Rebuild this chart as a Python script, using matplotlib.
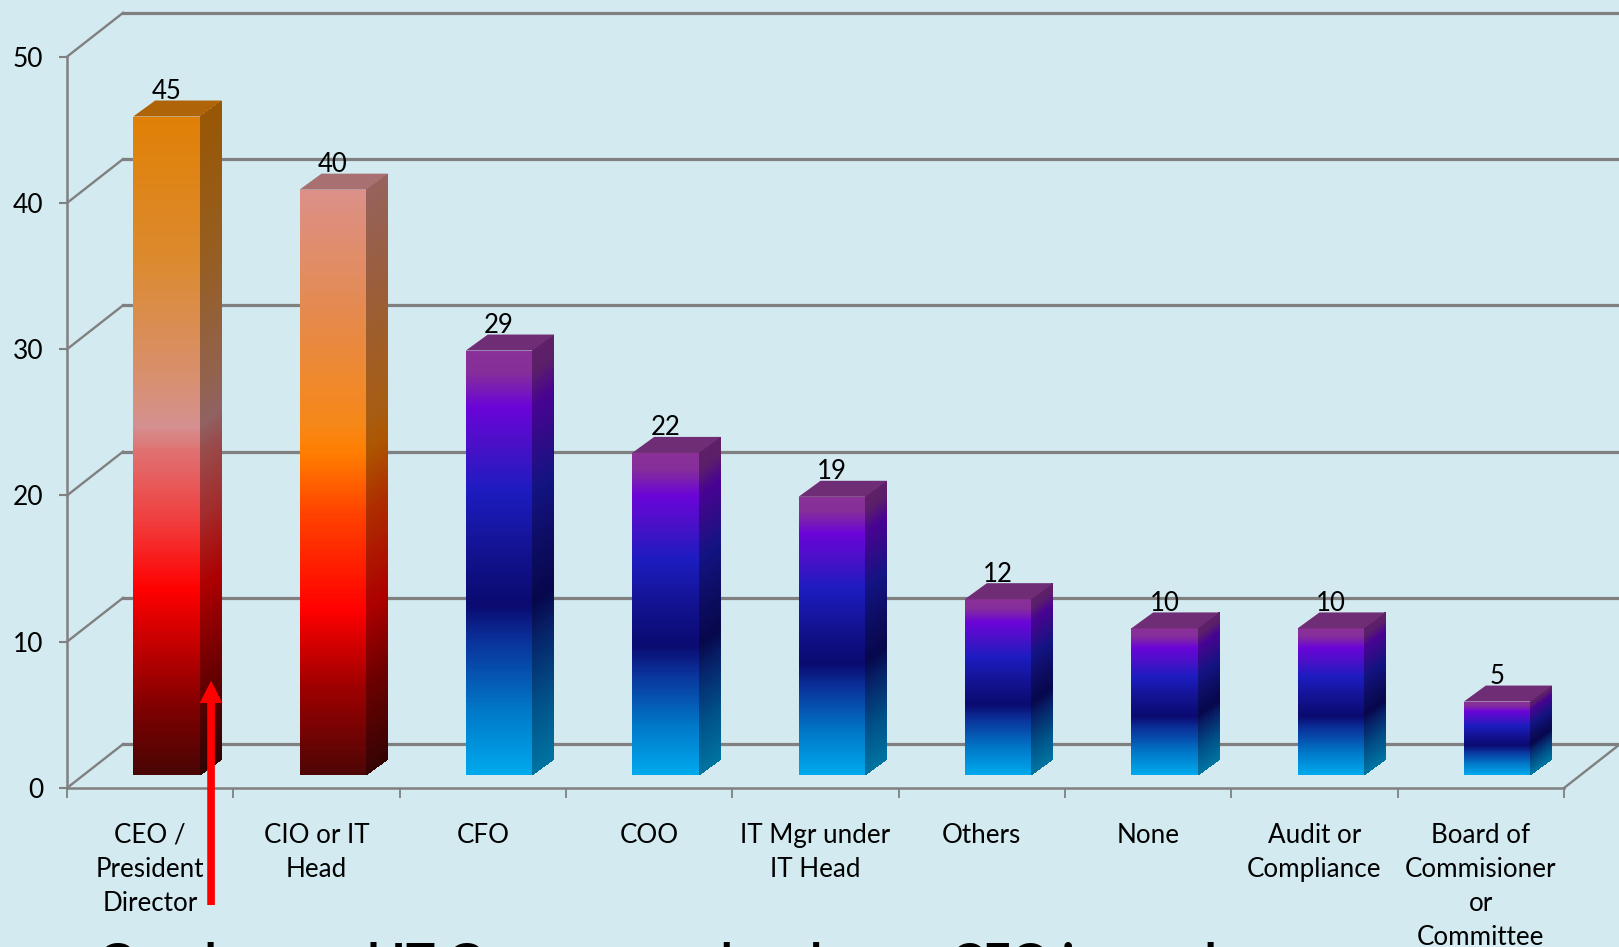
import numpy as np
from matplotlib import pyplot as plt
from matplotlib.colors import LinearSegmentedColormap
from matplotlib.patches import Polygon

categories = ['CEO /\nPresident\nDirector', 'CIO or IT\nHead', 'CFO', 'COO',
              'IT Mgr under\nIT Head', 'Others', 'None', 'Audit or\nCompliance',
              'Board of\nCommisioner\nor\nCommittee']
values = [45, 40, 29, 22, 19, 12, 10, 10, 5]
y_ticks = [0, 10, 20, 30, 40, 50]
caption = 'Good normal IT Governance level once CEO is good'

orange_stops = [(0, '#e08006'), (0.22, '#dc8a30'), (0.4, '#d89070'), (0.47, '#d49090'),
                (0.51, '#e07070'), (0.61, '#f04040'), (0.72, '#ff0000'), (0.81, '#c00000'),
                (0.9, '#800000'), (1, '#4a0505')]
pink_stops = [(0, '#dc9088'), (0.2, '#e48a50'), (0.4, '#f68818'), (0.45, '#ff7e00'),
              (0.55, '#ff4400'), (0.72, '#ff0000'), (0.85, '#a00000'), (1, '#500505')]
blue_stops = [(0, '#8a3098'), (0.05, '#852e9a'), (0.13, '#6a04d8'), (0.22, '#4a10c8'),
              (0.33, '#1c1cc0'), (0.48, '#12128f'), (0.6, '#0a0a70'), (0.68, '#0a2f98'),
              (0.85, '#0078c8'), (1, '#00a8ec')]
top_colors = ['#b06408', '#a87070'] + ['#6f2d75'] * 7

BG = '#d2eaf0'
GRID = '#808080'
WIDTH_PX, HEIGHT_PX = 1619, 947

plt.rcParams['font.family'] = ['Lato', 'DejaVu Sans']

fig = plt.figure(figsize=(WIDTH_PX / 100, HEIGHT_PX / 100), dpi=100, facecolor=BG)
ax = fig.add_axes([67 / WIDTH_PX, (947 - 788) / HEIGHT_PX,
                   (1564 - 67) / WIDTH_PX, (788 - 56.7) / HEIGHT_PX], facecolor='none')
ax.set_xlim(0, 9)
ax.set_ylim(0, 50)

# sizes of the fake 3D box, in data units
wall_dx, wall_dy = 0.337, 3.0
bar_w, bar_dx, bar_dy = 0.4, 0.132, 1.094
bar_left, bar_base = 0.398, 0.91

# back wall and floor lines
for v in y_ticks:
    ax.plot([0, wall_dx], [v, v + wall_dy], color=GRID, lw=1.7, clip_on=False, zorder=1)
    ax.plot([wall_dx, 9.4], [v + wall_dy, v + wall_dy], color=GRID, lw=2.3, clip_on=False, zorder=1)
ax.plot([9, 9 + wall_dx], [0, wall_dy], color=GRID, lw=1.7, clip_on=False, zorder=1)


def face_colors(stops, n=300):
    cmap = LinearSegmentedColormap.from_list('bar', stops)
    return cmap(np.linspace(0, 1, n))[:, :3]


def draw_bar(i, val, stops, top_color):
    x0 = i + bar_left
    x1 = x0 + bar_w
    y0 = bar_base
    y1 = bar_base + val
    rgb = face_colors(stops)
    n = len(rgb)

    # front face, top of the colour ramp at the top of the bar
    ys = np.linspace(y1, y0, n + 1)
    ax.pcolormesh([x0, x1], ys, rgb[:, None, :], shading='flat', clip_on=False, zorder=3)

    # side face, same ramp darkened and sheared back
    side = rgb[:, None, :] * 0.68
    xx = np.array([[x1, x1 + bar_dx]] * (n + 1))
    yy = np.column_stack([ys, ys + bar_dy])
    ax.pcolormesh(xx, yy, side, shading='flat', clip_on=False, zorder=3)

    ax.add_patch(Polygon([(x0, y1), (x1, y1), (x1 + bar_dx, y1 + bar_dy), (x0 + bar_dx, y1 + bar_dy)],
                         closed=True, facecolor=top_color, edgecolor='none', clip_on=False, zorder=3))
    ax.text(x0 + bar_w / 2, y1 + bar_dy + 0.1, str(val), ha='center', va='baseline',
            fontsize=18.5, color='black', zorder=5, clip_on=False)


for i, val in enumerate(values):
    stops = orange_stops if i == 0 else pink_stops if i == 1 else blue_stops
    draw_bar(i, val, stops, top_colors[i])

# axes
for side in ['top', 'right']:
    ax.spines[side].set_visible(False)
for side in ['left', 'bottom']:
    ax.spines[side].set_color(GRID)
    ax.spines[side].set_linewidth(1.8)
    ax.spines[side].set_zorder(2)
ax.set_yticks(y_ticks)
ax.tick_params(axis='y', length=6, width=1.5, color=GRID, labelsize=19, pad=11)
ax.set_xticks(np.arange(10))
ax.set_xticklabels([])
ax.tick_params(axis='x', which='major', length=7, width=1.3, color=GRID, direction='out')
ax.set_xticks(np.arange(9) + 0.5, minor=True)
ax.set_xticklabels(categories, minor=True, fontsize=18.7, linespacing=1.45)
ax.tick_params(axis='x', which='minor', length=0, pad=25)

# red arrow pointing at the CEO bar
ax.annotate('', xy=(0.866, 7.33), xytext=(0.866, -8),
            arrowprops=dict(facecolor='#ff0000', edgecolor='none', width=5.5,
                            headwidth=16.5, headlength=16, shrink=0),
            annotation_clip=False, zorder=6)

# caption runs off the bottom edge
fig.text(98 / WIDTH_PX, 1 - 941 / HEIGHT_PX, caption, fontsize=35, fontweight='bold',
         color='black', ha='left', va='top')

fig.savefig('out.png', dpi=100, facecolor=BG)
